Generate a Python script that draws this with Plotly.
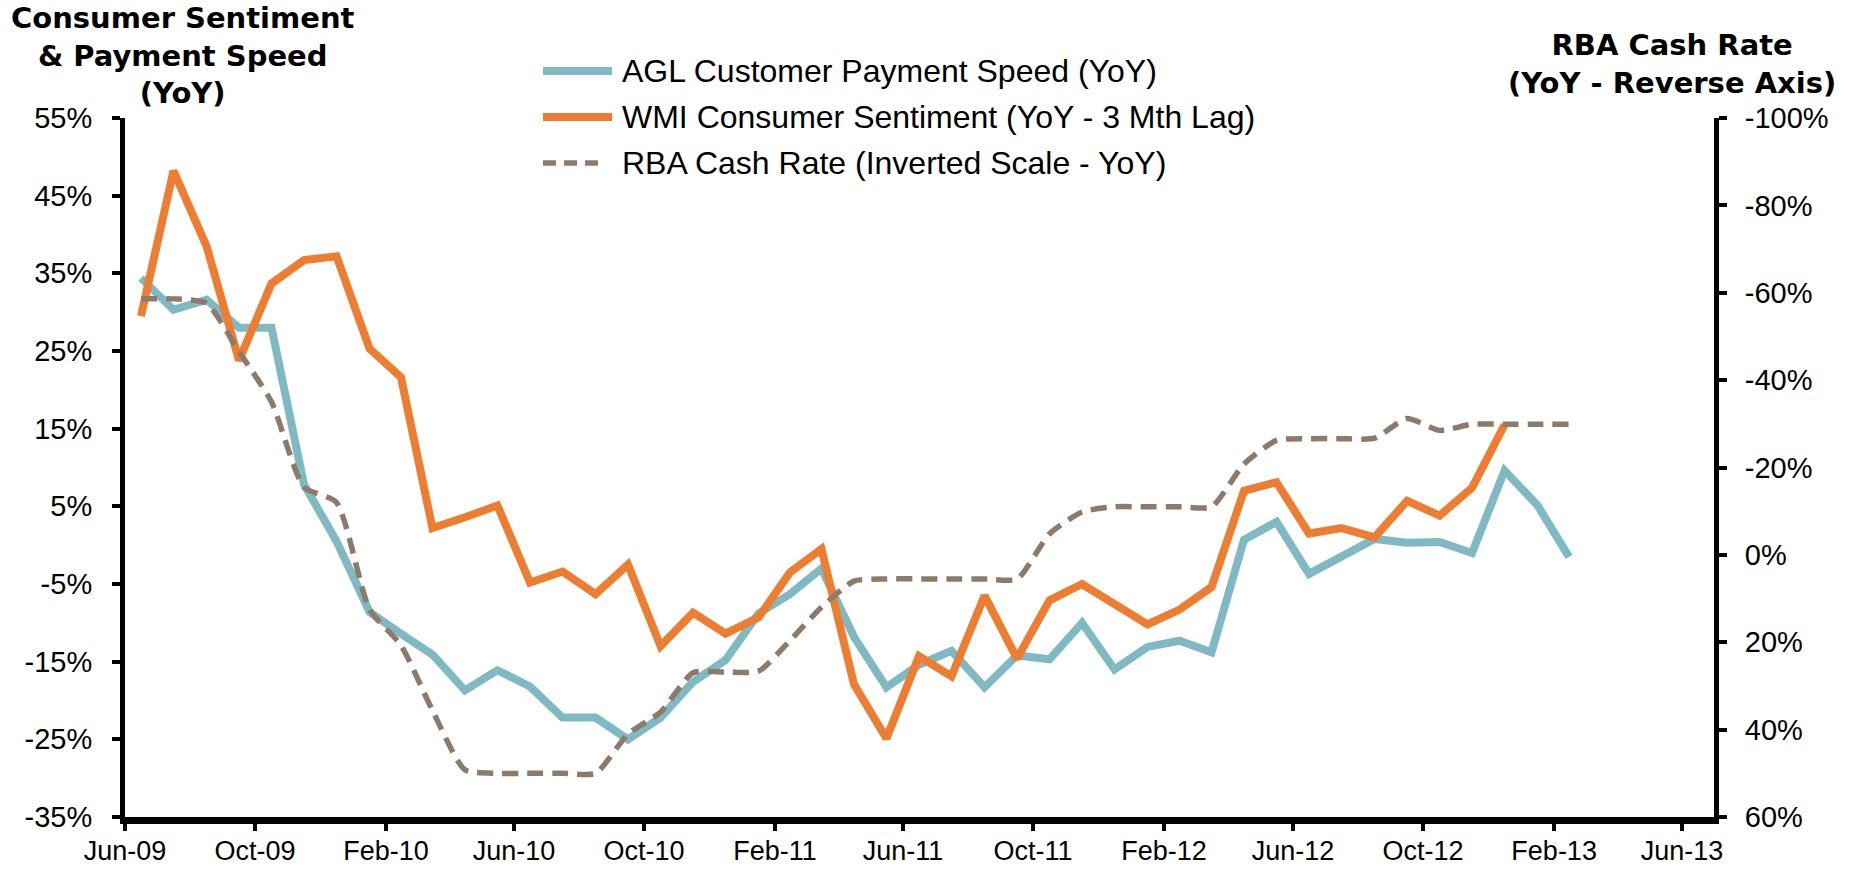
import plotly.graph_objects as go
import pandas as pd

# ---------------- data ----------------
months = pd.date_range("2009-06-01", periods=45, freq="MS")  # Jun-09 .. Feb-13

agl_payment_speed = [34.4, 30.3, 31.6, 28.0, 28.0, 7.8, 0.5, -8.6, -11.4, -14.1,
                     -18.7, -16.1, -18.2, -22.2, -22.2, -25.0, -22.2, -17.6, -14.8, -8.8,
                     -6.3, -3.0, -11.8, -18.3, -15.4, -13.6, -18.3, -14.2, -14.7, -10.0,
                     -16.0, -13.1, -12.3, -13.8, 0.7, 3.0, -3.7, -1.6, 0.8, 0.3,
                     0.4, -1.0, 9.6, 5.1, -1.5]

wmi_sentiment = [29.5, 48.2, 38.5, 23.8, 33.7, 36.7, 37.2, 25.3, 21.6, 2.2,
                 3.6, 5.1, -4.8, -3.4, -6.3, -2.5, -13.0, -8.7, -11.4, -9.3,
                 -3.5, -0.5, -17.9, -24.9, -14.3, -16.9, -6.5, -14.6, -7.1, -5.0,
                 -7.6, -10.2, -8.3, -5.4, 7.0, 8.1, 1.5, 2.2, 1.0, 5.7,
                 3.8, 7.4, 15.5]

rba_cash_rate = [-58.6, -58.6, -57.6, -46.5, -35.0, -15.5, -12.0, 12.5, 20.7, 35.6,
                 49.2, 50.0, 50.0, 50.0, 50.0, 41.0, 36.0, 27.0, 26.8, 26.6,
                 19.6, 12.0, 6.0, 5.5, 5.5, 5.5, 5.5, 5.5, -4.8, -9.8,
                 -11.0, -11.0, -11.0, -11.0, -20.8, -26.2, -26.6, -26.6, -26.7, -31.2,
                 -28.5, -29.9, -29.9, -29.9, -29.9]

left_ticks = [-35, -25, -15, -5, 5, 15, 25, 35, 45, 55]
right_ticks = [-100, -80, -60, -40, -20, 0, 20, 40, 60]

series_names = ["AGL Customer Payment Speed (YoY)",
                "WMI Consumer Sentiment (YoY - 3 Mth Lag)",
                "RBA Cash Rate (Inverted Scale - YoY)"]

# ---------------- style ----------------
TEAL = "#7FBAC3"
ORANGE = "#ED7D31"
TAUPE = "#8C7B6B"
W, H = 1854, 872
ML, MT = 125, 118
MR, MB = W - 1714, H - 817
PW, PH = W - ML - MR, H - MT - MB
SANS = "Liberation Sans, Arial, sans-serif"
BOLD = "Verdana, DejaVu Sans, sans-serif"


def px(xpage):
    return (xpage - ML) / PW


def py(ypage):
    return (H - MB - ypage) / PH


def pct(v):
    return f"{v}%"


fig = go.Figure()
fig.add_trace(go.Scatter(x=months, y=agl_payment_speed, mode="lines", name=series_names[0],
                         line=dict(color=TEAL, width=8),
                         xperiod="M1", xperiodalignment="middle"))
fig.add_trace(go.Scatter(x=months[:len(wmi_sentiment)], y=wmi_sentiment, mode="lines",
                         name=series_names[1], line=dict(color=ORANGE, width=8),
                         xperiod="M1", xperiodalignment="middle"))
fig.add_trace(go.Scatter(x=months, y=rba_cash_rate, mode="lines", name=series_names[2],
                         yaxis="y2",
                         line=dict(color=TAUPE, width=5.5, dash="16px,9px", shape="spline", smoothing=0.6),
                         xperiod="M1", xperiodalignment="middle"))

axis_common = dict(showgrid=False, zeroline=False, showline=True, linecolor="black",
                   ticks="outside", tickcolor="black", automargin=False)

fig.update_layout(
    width=W, height=H,
    margin=dict(l=ML, r=MR, t=MT, b=MB, autoexpand=False),
    paper_bgcolor="white", plot_bgcolor="white",
    showlegend=False,
    xaxis=dict(**axis_common, type="date", range=["2009-06-01", "2013-07-01"],
               tick0="2009-06-01", dtick="M4", tickformat="%b-%y",
               linewidth=7, ticklen=7, tickwidth=4, ticklabelstandoff=-3,
               tickfont=dict(family=SANS, size=27, color="black")),
    yaxis=dict(**axis_common, range=[-35, 55], tickvals=left_ticks,
               ticktext=[pct(v) for v in left_ticks],
               linewidth=5, ticklen=8, tickwidth=4, ticklabelstandoff=14,
               tickfont=dict(family=SANS, size=29, color="black")),
    yaxis2=dict(**axis_common, overlaying="y", side="right", range=[60, -100],
                tickvals=right_ticks, ticktext=[pct(v) for v in right_ticks],
                linewidth=5, ticklen=8, tickwidth=4, ticklabelstandoff=12,
                tickfont=dict(family=SANS, size=29, color="black")),
)

# titles
fig.add_annotation(x=px(183), y=py(56), xref="paper", yref="paper",
                   text="<b>Consumer Sentiment<br>& Payment Speed<br>(YoY)</b>",
                   showarrow=False, xanchor="center", yanchor="middle", align="center",
                   font=dict(family=BOLD, size=29, color="black"))
fig.add_annotation(x=px(1672), y=py(64), xref="paper", yref="paper",
                   text="<b>RBA Cash Rate<br>(YoY - Reverse Axis)</b>",
                   showarrow=False, xanchor="center", yanchor="middle", align="center",
                   font=dict(family=BOLD, size=29, color="black"))

# custom legend
legend_rows = [(71, TEAL, 8, "solid", 612), (117, ORANGE, 8, "solid", 612), (163, TAUPE, 5.5, "13px,8px", 605)]
for (ypix, col, wid, dash, xend), name in zip(legend_rows, series_names):
    fig.add_shape(type="line", xref="paper", yref="paper",
                  x0=px(543), x1=px(xend), y0=py(ypix), y1=py(ypix),
                  line=dict(color=col, width=wid, dash=dash))
    fig.add_annotation(x=px(620), y=py(ypix), xref="paper", yref="paper", text=name,
                       showarrow=False, xanchor="left", yanchor="middle",
                       font=dict(family=SANS, size=32, color="black"))

fig.write_html("out.html", config={"displayModeBar": False},
               post_script="document.body.style.margin='0';document.body.style.overflow='hidden';")
